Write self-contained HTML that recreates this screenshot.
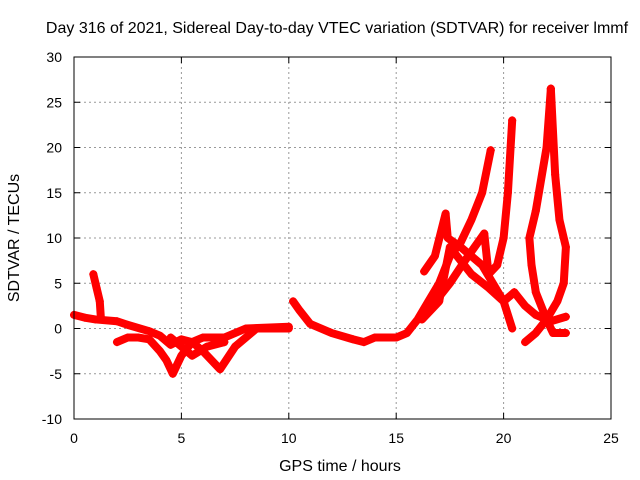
<!DOCTYPE html>
<html><head><meta charset="utf-8"><style>
body{margin:0;background:#fff}
svg{display:block;font-family:"Liberation Sans",sans-serif}
</style></head><body>
<svg id="chart" width="640" height="480" xmlns="http://www.w3.org/2000/svg">
<text x="337" y="33" font-size="16" text-anchor="middle">Day 316 of 2021, Sidereal Day-to-day VTEC variation (SDTVAR) for receiver lmmf</text>
<g id="grid"></g>
<g id="ticks"></g>
<g id="series"></g>
<rect x="74" y="57" width="537" height="362" fill="none" stroke="#000" stroke-width="1"/>
<text x="340" y="471" font-size="16" text-anchor="middle">GPS time / hours</text>
<text transform="translate(19,238) rotate(-90)" font-size="16" text-anchor="middle">SDTVAR / TECUs</text>
</svg>
<script>
const xTicks=[0,5,10,15,20,25];
const yTicks=[-10,-5,0,5,10,15,20,25,30];
const trackA_t=[0,0.5,1,2,2.5,3.5,4,4.5,5,5.5,6,6.8,7.5,8.5,10];
const trackA_v=[1.5,1.2,1,0.8,0.4,-0.3,-0.8,-1.8,-1.2,-1.5,-2.5,-4.5,-2,0,0];
const trackB_t=[0.9,1.05,1.2,1.25];
const trackB_v=[6,4.5,3,1.2];
const trackC_t=[2,2.5,3,3.5,4,4.3,4.6,5,5.5,6,7,8,10];
const trackC_v=[-1.5,-1,-1,-1.2,-2.5,-3.5,-5,-3,-1.5,-1,-1,0,0.2];
const trackD_t=[4.5,5,5.5,6.2,7];
const trackD_v=[-1,-2,-3,-2,-1.5];
const trackE_t=[10.2,10.5,11,12,13,13.5,14,15,15.5,16,16.5,17,17.5,18,18.5,19,19.4];
const trackE_v=[3,2,0.5,-0.5,-1.2,-1.5,-1,-1,-0.5,1,3,5,8,9.5,12,15,19.7];
const trackF_t=[16.3,16.8,17.3,17.4,18,18.5,19,19.5,20,20.5];
const trackF_v=[6.3,8,12.7,10,9,8,7,5,3,4];
const trackG_t=[16.2,17,17.5,18.5,19.3,20,20.4];
const trackG_v=[1,3,9,6,4.5,3,0];
const trackH_t=[16.5,17.5,18.2,19.1,19.3,19.7,20,20.2,20.4];
const trackH_v=[2,5,7.5,10.5,6,7,10,15,23];
const trackI_t=[22.2,22.4,22.6,22.9,22.8,22.5,22,21.5,21];
const trackI_v=[26.5,17,12,9,5,3,1,-0.5,-1.5];
const trackK_t=[22.2,22,21.5,21.2,21.3,21.5,22,22.3,22.9];
const trackK_v=[26.5,20,13,10,7,4,1,-0.5,-0.5];
const trackJ_t=[20.5,21,21.5,22.2,22.9];
const trackJ_v=[4,2.5,1.5,0.8,1.3];
const tracks=[[trackA_t,trackA_v],[trackB_t,trackB_v],[trackC_t,trackC_v],[trackD_t,trackD_v],[trackE_t,trackE_v],[trackF_t,trackF_v],[trackG_t,trackG_v],[trackH_t,trackH_v],[trackI_t,trackI_v],[trackK_t,trackK_v],[trackJ_t,trackJ_v]];
const X=t=>74+t*537/25;
const Y=v=>419-(v+10)*362/40;
const NS="http://www.w3.org/2000/svg";
function mk(tag,attrs,parent){const e=document.createElementNS(NS,tag);for(const k in attrs)e.setAttribute(k,attrs[k]);parent.appendChild(e);return e;}
const grid=document.getElementById('grid'),ticks=document.getElementById('ticks'),ser=document.getElementById('series');
xTicks.forEach(t=>{
 if(t>0&&t<25){const g=mk('line',{x1:X(t),x2:X(t),y1:57,y2:419,stroke:'#999','stroke-dasharray':'2,3'},grid);
 
 }
 mk('line',{x1:X(t),x2:X(t),y1:419,y2:413,stroke:'#000'},ticks);
 mk('line',{x1:X(t),x2:X(t),y1:57,y2:63,stroke:'#000'},ticks);
 const l=mk('text',{x:X(t),y:443,'font-size':14,'text-anchor':'middle'},ticks);l.textContent=t;
 
 
});
yTicks.forEach(v=>{
 if(v>-10&&v<30){const g=mk('line',{x1:74,x2:611,y1:Y(v),y2:Y(v),stroke:'#999','stroke-dasharray':'2,3'},grid);
 
 }
 mk('line',{x1:74,x2:80,y1:Y(v),y2:Y(v),stroke:'#000'},ticks);
 mk('line',{x1:605,x2:611,y1:Y(v),y2:Y(v),stroke:'#000'},ticks);
 const l=mk('text',{x:62,y:Y(v)+5,'font-size':14,'text-anchor':'end'},ticks);l.textContent=v;
 
 
});
tracks.forEach(([ts,vs],i)=>{
 const pts=ts.map((t,j)=>X(t)+','+Y(vs[j])).join(' ');
 const p=mk('polyline',{points:pts,fill:'none',stroke:'#f00','stroke-width':8,'stroke-linejoin':'round','stroke-linecap':'round'},ser);
 
 
 ts.forEach((t,j)=>{
  const m=mk('path',{d:`M${X(t)-4},${Y(vs[j])}h8M${X(t)},${Y(vs[j])-4}v8`,stroke:'#f00','stroke-width':1.5},ser);
  
  
 });
});
</script>
</body></html>
